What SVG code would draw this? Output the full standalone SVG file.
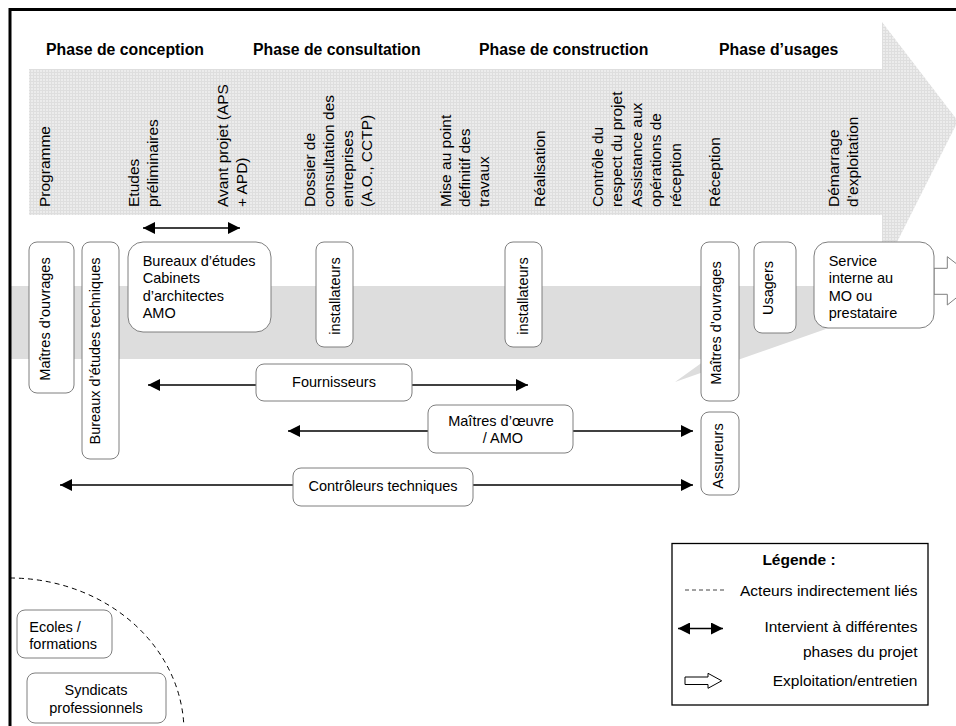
<svg xmlns="http://www.w3.org/2000/svg" width="956" height="726" viewBox="0 0 956 726">
<defs>
<pattern id="grid" width="3" height="3" patternUnits="userSpaceOnUse">
<rect width="3" height="3" fill="#ececec"/>
<path d="M0 0.5H3M0.5 0V3" stroke="#dedede" stroke-width="1"/>
</pattern>
<marker id="ah" viewBox="0 0 12 12" refX="12" refY="6" markerWidth="12" markerHeight="12" markerUnits="userSpaceOnUse" orient="auto-start-reverse"><path d="M0 0L12 6L0 12z" fill="#000"/></marker>
</defs>
<style>
.nd{fill:#fff;stroke:#7f7f7f;stroke-width:1}
.t{font-family:"Liberation Sans",Arial,sans-serif;font-size:14.5px;fill:#000}
.lb{font-family:"Liberation Sans",Arial,sans-serif;font-size:15.5px;fill:#000}
.h{font-family:"Liberation Sans",Arial,sans-serif;font-size:15.8px;font-weight:bold;fill:#000}
.cn{stroke:#000;stroke-width:1.3;fill:none;marker-start:url(#ah);marker-end:url(#ah)}
.ha{fill:#fff;stroke:#7f7f7f;stroke-width:1}
</style>
<rect width="956" height="726" fill="#fff"/>
<g id="background">
<polygon points="10,286 948,286 675,382 707,359 10,359" fill="#dddddd"/>
<polygon points="29,69 882,69 882,22 958,121 882,272 882,215 29,215" fill="url(#grid)"/>
<path d="M10 726V9.5H956" fill="none" stroke="#000" stroke-width="3"/>
</g>
<g id="phases">
<text class="h" x="46" y="55">Phase de conception</text>
<text class="h" x="253" y="55">Phase de consultation</text>
<text class="h" x="479" y="55">Phase de construction</text>
<text class="h" x="719" y="55">Phase d’usages</text>
</g>
<g id="steps">
<text class="lb" transform="translate(49.5,207) rotate(-90)">Programme</text>
<text class="lb" transform="translate(139,207) rotate(-90)"><tspan x="0" y="0">Etudes</tspan><tspan x="0" y="19">préliminaires</tspan></text>
<text class="lb" transform="translate(228,207) rotate(-90)"><tspan x="0" y="0">Avant projet (APS</tspan><tspan x="0" y="19">+ APD)</tspan></text>
<text class="lb" transform="translate(315,207) rotate(-90)"><tspan x="0" y="0">Dossier de</tspan><tspan x="0" y="19">consultation des</tspan><tspan x="0" y="38">entreprises</tspan><tspan x="0" y="57">(A.O., CCTP)</tspan></text>
<text class="lb" transform="translate(451,207) rotate(-90)"><tspan x="0" y="0">Mise au point</tspan><tspan x="0" y="19">définitif des</tspan><tspan x="0" y="38">travaux</tspan></text>
<text class="lb" transform="translate(545,207) rotate(-90)">Réalisation</text>
<text class="lb" transform="translate(602.5,207) rotate(-90)"><tspan x="0" y="0">Contrôle du</tspan><tspan x="0" y="19.5">respect du projet</tspan><tspan x="0" y="39">Assistance aux</tspan><tspan x="0" y="58.5">opérations de</tspan><tspan x="0" y="78">réception</tspan></text>
<text class="lb" transform="translate(719.5,207) rotate(-90)">Réception</text>
<text class="lb" transform="translate(839,207) rotate(-90)"><tspan x="0" y="0">Démarrage</tspan><tspan x="0" y="19">d’exploitation</tspan></text>
</g>
<g id="connectors">
<line class="cn" x1="143" y1="228" x2="240" y2="228"/>
<line class="cn" x1="148" y1="385" x2="528" y2="385"/>
<line class="cn" x1="288" y1="431" x2="693" y2="431"/>
<line class="cn" x1="60" y1="485" x2="693" y2="485"/>
<polygon class="ha" points="934,268.3 947.3,268.3 947.3,256.7 978,280.5 947.3,305 947.3,294.3 934,294.3"/>
</g>
<g id="n-mo1"><rect class="nd" x="29" y="242" width="45" height="151" rx="8"/><text class="t" text-anchor="middle" transform="translate(50,319) rotate(-90)">Maîtres d’ouvrages</text></g>
<g id="n-bet"><rect class="nd" x="82" y="242" width="37" height="217" rx="8"/><text class="t" text-anchor="middle" transform="translate(100,351) rotate(-90)">Bureaux d’études techniques</text></g>
<g id="n-be"><rect class="nd" x="128" y="242" width="143" height="90" rx="15"/><text class="t"><tspan x="142.7" y="266">Bureaux d’études</tspan><tspan x="142.7" y="283.4">Cabinets</tspan><tspan x="142.7" y="300.8">d’architectes</tspan><tspan x="142.7" y="318.2">AMO</tspan></text></g>
<g id="n-inst1"><rect class="nd" x="316" y="242" width="37" height="105" rx="8"/><text class="t" text-anchor="middle" transform="translate(340,296) rotate(-90)">installateurs</text></g>
<g id="n-inst2"><rect class="nd" x="505" y="242" width="37" height="105" rx="8"/><text class="t" text-anchor="middle" transform="translate(528,296) rotate(-90)">installateurs</text></g>
<g id="n-mo2"><rect class="nd" x="701" y="242" width="38" height="159" rx="8"/><text class="t" text-anchor="middle" transform="translate(721,323) rotate(-90)">Maîtres d’ouvrages</text></g>
<g id="n-usagers"><rect class="nd" x="754" y="242" width="42" height="91" rx="8"/><text class="t" text-anchor="middle" transform="translate(773,288) rotate(-90)">Usagers</text></g>
<g id="n-service"><rect class="nd" x="814" y="242" width="120" height="86" rx="14"/><text class="t"><tspan x="828.7" y="266">Service</tspan><tspan x="828.7" y="283.4">interne au</tspan><tspan x="828.7" y="300.8">MO ou</tspan><tspan x="828.7" y="318.2">prestataire</tspan></text></g>
<g id="n-fourn"><rect class="nd" x="256" y="364" width="156" height="37" rx="8"/><text class="t" text-anchor="middle" x="334" y="387">Fournisseurs</text></g>
<g id="n-moe"><rect class="nd" x="428" y="405" width="145" height="48" rx="8"/><text class="t" text-anchor="middle"><tspan x="501" y="426">Maîtres d’œuvre</tspan><tspan x="503" y="443">/ AMO</tspan></text></g>
<g id="n-ctrl"><rect class="nd" x="293" y="468" width="180" height="38" rx="8"/><text class="t" text-anchor="middle" x="383" y="490.5">Contrôleurs techniques</text></g>
<g id="n-assur"><rect class="nd" x="701" y="412" width="38" height="83" rx="8"/><text class="t" text-anchor="middle" transform="translate(722.5,456) rotate(-90)">Assureurs</text></g>
<g id="indirect">
<path d="M10 578A174 154 0 0 1 184 732" fill="none" stroke="#000" stroke-width="1" stroke-dasharray="5 4"/>
</g>
<g id="n-ecoles"><rect class="nd" x="17" y="610" width="95" height="48" rx="8"/><text class="t"><tspan x="29.3" y="631.7">Ecoles /</tspan><tspan x="29.3" y="648.5">formations</tspan></text></g>
<g id="n-synd"><rect class="nd" x="27" y="673" width="139" height="50" rx="8"/><text class="t" text-anchor="middle"><tspan x="96" y="695">Syndicats</tspan><tspan x="96" y="712.5">professionnels</tspan></text></g>
<g id="legend">
<rect x="672" y="543.5" width="256" height="161.5" fill="#fff" stroke="#000" stroke-width="1.3"/>
<text class="lb" font-weight="bold" font-size="15px" text-anchor="middle" x="799" y="565">Légende :</text>
<line x1="685" y1="590" x2="725" y2="590" stroke="#444" stroke-width="1" stroke-dasharray="4 3"/>
<text class="lb" text-anchor="end" x="917.5" y="596">Acteurs indirectement liés</text>
<line class="cn" x1="678" y1="628.5" x2="723" y2="628.5"/>
<text class="lb" text-anchor="end"><tspan x="917.5" y="632">Intervient à différentes</tspan><tspan x="917.5" y="656.5">phases du projet</tspan></text>
<polygon points="685,677 708,677 708,673.3 721.7,680.8 708,688.3 708,684.5 685,684.5" fill="#fff" stroke="#000" stroke-width="1"/>
<text class="lb" text-anchor="end" x="917.5" y="686">Exploitation/entretien</text>
</g>
</svg>
